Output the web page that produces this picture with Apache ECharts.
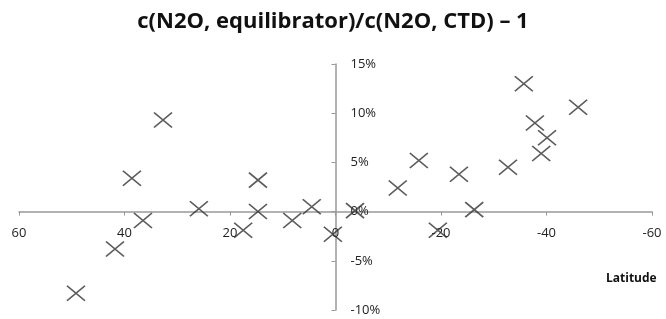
<!DOCTYPE html>
<html>
<head>
<meta charset="utf-8">
<script src="https://cdn.jsdelivr.net/npm/echarts@6/dist/echarts.min.js"></script>
<style>
	html, body { margin: 0; padding: 0; background: #fff; }
	#chartDiv { width: 666px; height: 319px; }
</style>
</head>
<body>
<div id="chartDiv"></div>
<script>
// latitude (x) and relative deviation in % (y)
var latitude = [49.2, 41.8, 38.6, 36.5, 32.7, 25.9, 17.5, 14.7, 14.7, 8.2, 4.5, 0.5,
	-3.7, -11.8, -15.8, -19.4, -23.4, -26.3, -32.7, -35.7, -37.8, -39.0, -40.1, -46.0];
var deviation = [-8.3, -3.8, 3.4, -0.9, 9.3, 0.3, -1.9, 3.2, 0.0, -0.9, 0.5, -2.3,
	0.1, 2.4, 5.2, -1.9, 3.8, 0.2, 4.5, 13.0, 9.0, 5.9, 7.5, 10.6];
var xTicks = [60, 40, 20, 0, -20, -40, -60];
var yTicks = [-10, -5, 0, 5, 10, 15];

var points = [];
for (var i = 0; i < latitude.length; i++) {
	points.push([latitude[i], deviation[i]]);
}

var chart = echarts.init(document.getElementById('chartDiv'));
var labelFont = "'Open Sans', sans-serif";
var W = 666, H = 319;
var gridLeft = 19, gridRight = 14, gridTop = 64, gridBottom = 9;
var yMin = yTicks[0], yMax = yTicks[yTicks.length - 1];
// y axis sits at latitude 0 (middle), x axis at 0 %
var yAxisShift = (W - gridLeft - gridRight) / 2;
var xAxisShift = (H - gridTop - gridBottom) * (0 - yMin) / (yMax - yMin);

chart.setOption({
	animation: false,
	title: [{
		text: 'c(N2O, equilibrator)/c(N2O, CTD) \u2013 1',
		left: 'center',
		top: 6,
		textStyle: { fontFamily: labelFont, fontSize: 22, fontWeight: 'bold', color: '#111' }
	}, {
		text: 'Latitude',
		left: 601,
		top: 268,
		textStyle: { fontFamily: labelFont, fontSize: 12, fontWeight: 'bold', color: '#111' }
	}],
	grid: { left: gridLeft, right: gridRight, top: gridTop, bottom: gridBottom, containLabel: false, outerBoundsMode: 'none' },
	xAxis: {
		type: 'value',
		position: 'bottom',
		offset: -xAxisShift,
		inverse: true,
		min: xTicks[xTicks.length - 1],
		max: xTicks[0],
		interval: 20,
		splitLine: { show: false },
		axisLine: { onZero: false, lineStyle: { color: '#999', width: 1.5 } },
		axisTick: { show: true, length: 4, lineStyle: { color: '#999' } },
		axisLabel: { margin: 15, color: '#222', fontFamily: labelFont, fontSize: 13 }
	},
	yAxis: {
		type: 'value',
		position: 'left',
		offset: -yAxisShift,
		min: yMin,
		max: yMax,
		interval: 5,
		splitLine: { show: false },
		axisLine: { show: true, onZero: false, lineStyle: { color: '#999', width: 1.5 } },
		axisTick: { show: true, inside: false, length: 4, lineStyle: { color: '#999' } },
		axisLabel: { inside: true, margin: 15, color: '#222', fontFamily: labelFont, fontSize: 13, formatter: '{value}%' }
	},
	series: [{
		type: 'scatter',
		data: points,
		symbol: 'path://M0,0L10,10M10,0L0,10',
		symbolSize: [18, 15],
		itemStyle: { color: 'rgba(0,0,0,0)', borderColor: '#333', borderWidth: 1.6 }
	}]
});
</script>
</body>
</html>
